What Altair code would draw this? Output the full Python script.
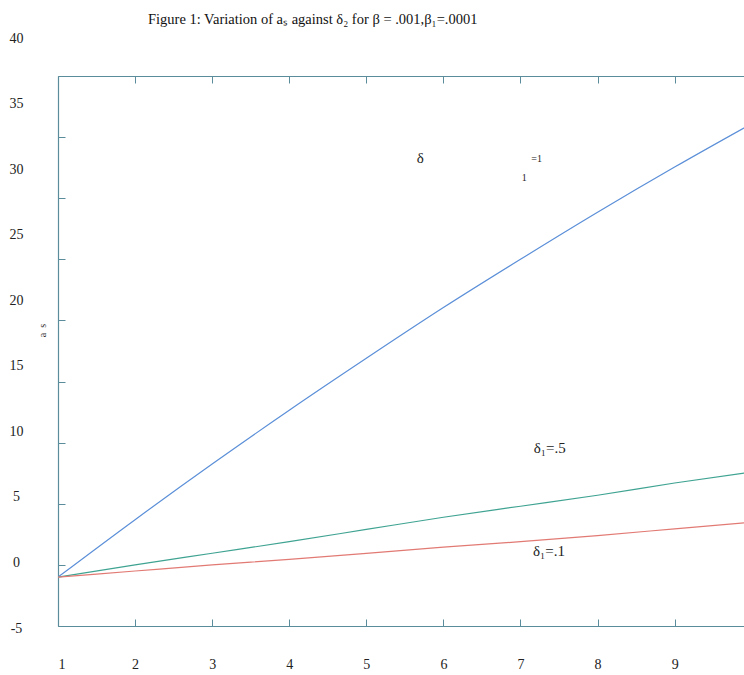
import altair as alt
import pandas as pd

# ---- data ----
x_vals = [1, 2, 3, 4, 5, 6, 7, 8, 9, 10]
a_delta1_1 = [-1.0, 3.7, 8.25, 12.65, 16.9, 21.05, 25.0, 28.85, 32.55, 36.1]
a_delta1_05 = [-1.0, 0.0, 0.95, 1.9, 2.9, 3.9, 4.8, 5.7, 6.7, 7.6]
a_delta1_01 = [-1.0, -0.5, 0.0, 0.45, 0.95, 1.45, 1.9, 2.4, 2.95, 3.5]
series_names = ["δ₁=1", "δ₁=.5", "δ₁=.1"]
line_colors = ["#5b8fd8", "#3fa392", "#e27a74"]

x_ticks = [1, 2, 3, 4, 5, 6, 7, 8, 9]
y_ticks = [-5, 0, 5, 10, 15, 20, 25, 30, 35, 40]

big_text = ["δ", "δ₁=.5", "δ₁=.1"]
big_x = [5.70, 7.38, 7.37]
big_y = [33.3, 9.56, 1.14]
small_text = ["=1", "1"]
small_x = [7.21, 7.05]
small_y = [33.2, 31.65]

title_text = "Figure 1: Variation of aₛ against δ₂ for β = .001,β₁=.0001"

# ---- tables ----
rows = []
for name, vals in zip(series_names, [a_delta1_1, a_delta1_05, a_delta1_01]):
    for xv, yv in zip(x_vals, vals):
        rows.append({"x": xv, "a": yv, "series": name})
df = pd.DataFrame(rows)
big_df = pd.DataFrame({"x": big_x, "y": big_y, "t": big_text})
small_df = pd.DataFrame({"x": small_x, "y": small_y, "t": small_text})
ylab_df = pd.DataFrame({"v": y_ticks})

W, H = 686, 550
AX = "#5a8c9c"
FONT = "Liberation Serif"


def xs():
    return alt.Scale(domain=[1, 9.9], nice=False, zero=False)


def ys():
    return alt.Scale(domain=[-5, 40], nice=False, zero=False)


lines = alt.Chart(df).mark_line(clip=True, strokeWidth=1.2, interpolate="monotone").encode(
    x=alt.X("x:Q", scale=xs(), axis=alt.Axis(
        orient="bottom", values=x_ticks, ticks=False, domainColor=AX, domainWidth=1.2,
        labelPadding=31, labelFont=FONT, labelFontSize=14, labelColor="#222",
        grid=False, title=None, format="d")),
    y=alt.Y("a:Q", scale=ys(), axis=alt.Axis(
        orient="left", values=y_ticks, ticks=False, labels=False, domainColor=AX,
        domainWidth=1.2, grid=False, title="a\u00a0\u00a0s", titleFont=FONT,
        titleFontSize=10, titleFontWeight="normal", titleX=-11, titleY=254,
        titleColor="#333")),
    color=alt.Color("series:N", scale=alt.Scale(domain=series_names, range=line_colors),
                    legend=None),
    detail="series:N",
)

big_labels = alt.Chart(big_df).mark_text(
    font=FONT, fontSize=15, color="#222", align="center", baseline="middle"
).encode(
    x=alt.X("x:Q", scale=xs(), axis=alt.Axis(
        orient="top", offset=-H, values=x_ticks, labels=False, domain=False,
        ticks=True, tickSize=7, tickColor=AX, grid=False, title=None)),
    y=alt.Y("y:Q", scale=ys(), axis=alt.Axis(
        orient="right", offset=-W, values=y_ticks, labels=False, domain=False,
        ticks=True, tickSize=7, tickColor=AX, grid=False, title=None)),
    text="t:N",
)

small_labels = alt.Chart(small_df).mark_text(
    font=FONT, fontSize=10, color="#222", align="center", baseline="middle"
).encode(
    x=alt.X("x:Q", scale=xs(), axis=alt.Axis(
        orient="bottom", offset=-H, values=x_ticks, labels=False, domain=True,
        domainColor=AX, domainWidth=1.2, ticks=True, tickSize=7, tickColor=AX,
        grid=False, title=None)),
    y=alt.Y("y:Q", scale=ys(), axis=None),
    text="t:N",
)

ylabels = alt.Chart(ylab_df).mark_point(opacity=0).encode(
    y=alt.Y("v:Q", scale=alt.Scale(domain=[-5, 40], range=[552, -38], nice=False,
                                   zero=False),
            axis=alt.Axis(orient="left", values=y_ticks, ticks=False, domain=False,
                          labelPadding=42, labelAlign="center", labelFont=FONT,
                          labelFontSize=14, labelColor="#222", grid=False, title=None,
                          labelExpr="'' + datum.value")),
)

chart = alt.layer(lines, big_labels, small_labels, ylabels).resolve_scale(
    y="independent"
).resolve_axis(x="independent", y="independent").properties(
    width=W, height=H, autosize="none",
    padding={"left": 58, "top": 76, "right": 0, "bottom": 49},
    background="white",
    title=alt.TitleParams(title_text, anchor="start", frame="group", dx=90,
                          font=FONT, fontSize=14.5, fontWeight="normal", color="#111"),
).configure_view(stroke=None)

chart.save("out.html", embed_options={"renderer": "svg", "actions": False})
